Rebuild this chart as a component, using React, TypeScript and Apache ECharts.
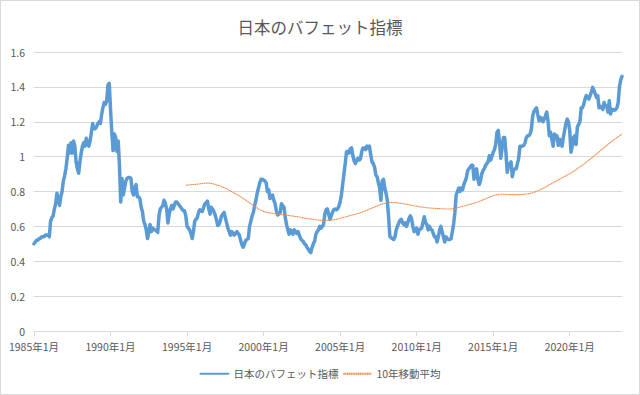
import React, { useEffect, useRef } from "react";
import * as echarts from "echarts";

const TITLE = "日本のバフェット指標";
const SERIES_MAIN = "日本のバフェット指標";
const SERIES_MA = "10年移動平均";
const START_YEAR = 1985;
const LABEL_EVERY = 60; // one label every 5 years

// Monthly values, 1985年1月 .. 2023年6月
const buffett: number[] = [
  // 1985
  0.50, 0.51, 0.52, 0.52, 0.53, 0.53, 0.54, 0.54, 0.54, 0.55, 0.55, 0.55,
  // 1986
  0.54, 0.63, 0.65, 0.66, 0.70, 0.73, 0.79, 0.76, 0.72, 0.77, 0.80, 0.86,
  // 1987
  0.89, 0.93, 0.99, 1.065, 1.02, 1.08, 1.02, 1.09, 1.06, 0.97, 0.93, 0.905,
  // 1988
  0.97, 1.02, 1.06, 1.08, 1.06, 1.105, 1.08, 1.06, 1.09, 1.14, 1.19, 1.16,
  // 1989
  1.16, 1.17, 1.19, 1.20, 1.19, 1.24, 1.28, 1.31, 1.30, 1.32, 1.41, 1.42,
  // 1990
  1.27, 1.14, 1.035, 1.13, 1.11, 1.03, 1.09, 0.95, 0.74, 0.875, 0.78, 0.82,
  // 1991
  0.86, 0.875, 0.88, 0.88, 0.875, 0.80, 0.78, 0.82, 0.84, 0.77, 0.77, 0.76,
  // 1992
  0.71, 0.685, 0.63, 0.61, 0.58, 0.53, 0.57, 0.61, 0.57, 0.59, 0.58, 0.58,
  // 1993
  0.575, 0.565, 0.66, 0.70, 0.71, 0.72, 0.75, 0.73, 0.70, 0.62, 0.67, 0.70,
  // 1994
  0.72, 0.70, 0.72, 0.74, 0.74, 0.73, 0.72, 0.71, 0.70, 0.69, 0.69, 0.66,
  // 1995
  0.60, 0.59, 0.58, 0.56, 0.53, 0.57, 0.63, 0.64, 0.65, 0.68, 0.695, 0.69,
  // 1996
  0.685, 0.71, 0.73, 0.735, 0.745, 0.70, 0.67, 0.71, 0.70, 0.685, 0.665, 0.64,
  // 1997
  0.605, 0.61, 0.63, 0.66, 0.67, 0.68, 0.65, 0.62, 0.59, 0.57, 0.55, 0.57,
  // 1998
  0.56, 0.55, 0.56, 0.57, 0.56, 0.55, 0.52, 0.495, 0.48, 0.50, 0.52, 0.525,
  // 1999
  0.53, 0.60, 0.63, 0.66, 0.68, 0.72, 0.75, 0.79, 0.82, 0.85, 0.87, 0.87,
  // 2000
  0.865, 0.86, 0.85, 0.80, 0.81, 0.76, 0.77, 0.78, 0.75, 0.73, 0.69, 0.665,
  // 2001
  0.67, 0.68, 0.73, 0.72, 0.71, 0.65, 0.61, 0.58, 0.555, 0.58, 0.57, 0.555,
  // 2002
  0.58, 0.57, 0.56, 0.57, 0.55, 0.53, 0.52, 0.515, 0.50, 0.495, 0.48, 0.47,
  // 2003
  0.457, 0.45, 0.48, 0.50, 0.515, 0.555, 0.57, 0.58, 0.60, 0.59, 0.60, 0.61,
  // 2004
  0.67, 0.695, 0.70, 0.67, 0.64, 0.66, 0.68, 0.695, 0.70, 0.695, 0.70, 0.715,
  // 2005
  0.74, 0.78, 0.84, 0.90, 0.96, 1.027, 1.03, 1.02, 1.045, 1.05, 1.005, 0.975,
  // 2006
  0.96, 0.98, 0.99, 0.98, 0.99, 1.03, 1.05, 1.05, 1.04, 1.06, 1.05, 1.06,
  // 2007
  1.01, 0.97, 0.96, 0.94, 0.895, 0.885, 0.85, 0.82, 0.75, 0.86, 0.87, 0.82,
  // 2008
  0.79, 0.75, 0.656, 0.543, 0.535, 0.53, 0.525, 0.54, 0.58, 0.60, 0.62, 0.635,
  // 2009
  0.64, 0.62, 0.61, 0.62, 0.60, 0.62, 0.645, 0.66, 0.645, 0.60, 0.57, 0.58,
  // 2010
  0.59, 0.555, 0.58, 0.585, 0.59, 0.625, 0.655, 0.62, 0.61, 0.58, 0.60, 0.585,
  // 2011
  0.58, 0.56, 0.54, 0.54, 0.51, 0.54, 0.58, 0.60, 0.57, 0.54, 0.51, 0.54,
  // 2012
  0.53, 0.525, 0.525, 0.53, 0.57, 0.615, 0.68, 0.78, 0.80, 0.82, 0.80, 0.82,
  // 2013
  0.81, 0.84, 0.86, 0.88, 0.92, 0.93, 0.94, 0.95, 0.95, 0.87, 0.91, 0.93,
  // 2014
  0.87, 0.84, 0.86, 0.90, 0.92, 0.93, 0.95, 0.96, 0.97, 1.005, 0.98, 1.00,
  // 2015
  1.025, 1.04, 1.07, 1.14, 1.15, 1.08, 0.99, 1.05, 1.11, 1.11, 1.025, 0.91,
  // 2016
  0.95, 0.96, 0.97, 0.885, 0.92, 0.93, 0.93, 0.96, 0.99, 1.06, 1.06, 1.06,
  // 2017
  1.065, 1.08, 1.11, 1.12, 1.12, 1.13, 1.16, 1.235, 1.26, 1.27, 1.28, 1.24,
  // 2018
  1.205, 1.225, 1.22, 1.20, 1.215, 1.235, 1.255, 1.205, 1.12, 1.14, 1.10, 1.06,
  // 2019
  1.13, 1.12, 1.12, 1.065, 1.10, 1.08, 1.06, 1.11, 1.15, 1.19, 1.215, 1.20,
  // 2020
  1.15, 1.025, 1.06, 1.11, 1.12, 1.07, 1.17, 1.185, 1.20, 1.28, 1.28, 1.30,
  // 2021
  1.33, 1.35, 1.34, 1.33, 1.35, 1.37, 1.397, 1.38, 1.36, 1.34, 1.35, 1.28,
  // 2022
  1.29, 1.28, 1.27, 1.31, 1.29, 1.29, 1.255, 1.32, 1.245, 1.27, 1.27, 1.265,
  // 2023
  1.27, 1.28, 1.31, 1.40, 1.44, 1.46,
];

// 10-year moving average, first value at 1994年12月
const MA_START_INDEX = 119;
const movingAvg: number[] = [
  // 1994-12
  0.835,
  // 1995
  0.836, 0.837, 0.838, 0.839, 0.840, 0.840, 0.841, 0.842, 0.842, 0.843, 0.844, 0.845,
  // 1996
  0.846, 0.847, 0.847, 0.848, 0.848, 0.848, 0.847, 0.846, 0.845, 0.843, 0.841, 0.838,
  // 1997
  0.836, 0.834, 0.831, 0.828, 0.825, 0.822, 0.819, 0.815, 0.811, 0.807, 0.803, 0.799,
  // 1998
  0.795, 0.791, 0.787, 0.783, 0.779, 0.775, 0.770, 0.765, 0.760, 0.755, 0.750, 0.745,
  // 1999
  0.740, 0.735, 0.730, 0.725, 0.720, 0.715, 0.710, 0.705, 0.700, 0.696, 0.692, 0.689,
  // 2000
  0.686, 0.683, 0.681, 0.679, 0.678, 0.677, 0.676, 0.675, 0.674, 0.673, 0.672, 0.671,
  // 2001
  0.670, 0.669, 0.668, 0.667, 0.666, 0.665, 0.664, 0.663, 0.662, 0.661, 0.660, 0.659,
  // 2002
  0.658, 0.657, 0.656, 0.655, 0.654, 0.652, 0.650, 0.649, 0.647, 0.646, 0.645, 0.644,
  // 2003
  0.643, 0.642, 0.641, 0.640, 0.639, 0.638, 0.637, 0.636, 0.636, 0.635, 0.635, 0.635,
  // 2004
  0.635, 0.635, 0.635, 0.635, 0.636, 0.636, 0.637, 0.638, 0.639, 0.640, 0.642, 0.644,
  // 2005
  0.646, 0.648, 0.650, 0.652, 0.654, 0.656, 0.658, 0.660, 0.662, 0.664, 0.666, 0.668,
  // 2006
  0.670, 0.672, 0.674, 0.676, 0.678, 0.681, 0.684, 0.687, 0.690, 0.693, 0.696, 0.699,
  // 2007
  0.702, 0.705, 0.708, 0.711, 0.714, 0.717, 0.720, 0.723, 0.726, 0.728, 0.730, 0.732,
  // 2008
  0.734, 0.735, 0.736, 0.737, 0.737, 0.737, 0.737, 0.737, 0.736, 0.735, 0.734, 0.733,
  // 2009
  0.732, 0.731, 0.730, 0.728, 0.727, 0.726, 0.724, 0.722, 0.721, 0.720, 0.718, 0.717,
  // 2010
  0.716, 0.714, 0.713, 0.712, 0.711, 0.710, 0.709, 0.708, 0.707, 0.706, 0.705, 0.705,
  // 2011
  0.704, 0.704, 0.703, 0.703, 0.702, 0.702, 0.702, 0.701, 0.701, 0.701, 0.700, 0.700,
  // 2012
  0.700, 0.700, 0.700, 0.700, 0.701, 0.702, 0.703, 0.705, 0.707, 0.709, 0.711, 0.713,
  // 2013
  0.715, 0.717, 0.719, 0.721, 0.723, 0.725, 0.727, 0.729, 0.731, 0.733, 0.735, 0.737,
  // 2014
  0.740, 0.743, 0.746, 0.749, 0.752, 0.755, 0.758, 0.761, 0.764, 0.767, 0.770, 0.773,
  // 2015
  0.776, 0.778, 0.780, 0.782, 0.783, 0.784, 0.784, 0.784, 0.784, 0.784, 0.783, 0.783,
  // 2016
  0.783, 0.782, 0.782, 0.782, 0.782, 0.782, 0.782, 0.782, 0.782, 0.782, 0.783, 0.783,
  // 2017
  0.784, 0.785, 0.786, 0.787, 0.788, 0.789, 0.791, 0.793, 0.795, 0.798, 0.801, 0.804,
  // 2018
  0.807, 0.810, 0.814, 0.818, 0.822, 0.826, 0.830, 0.834, 0.838, 0.842, 0.846, 0.850,
  // 2019
  0.854, 0.858, 0.862, 0.866, 0.870, 0.874, 0.878, 0.882, 0.886, 0.890, 0.894, 0.898,
  // 2020
  0.902, 0.906, 0.911, 0.916, 0.921, 0.926, 0.931, 0.936, 0.941, 0.946, 0.951, 0.956,
  // 2021
  0.962, 0.968, 0.974, 0.980, 0.986, 0.992, 0.998, 1.004, 1.010, 1.016, 1.022, 1.028,
  // 2022
  1.034, 1.040, 1.046, 1.052, 1.058, 1.064, 1.070, 1.076, 1.082, 1.088, 1.094, 1.099,
  // 2023
  1.104, 1.109, 1.114, 1.119, 1.124, 1.130,
];

const yTicks = { min: 0, max: 1.6, interval: 0.2 };

const categories: string[] = buffett.map((_, i) => {
  const y = START_YEAR + Math.floor(i / 12);
  const m = (i % 12) + 1;
  return `${y}年${m}月`;
});

const maData: (number | null)[] = [
  ...new Array(MA_START_INDEX).fill(null),
  ...movingAvg,
];

const FONT = '"Noto Sans CJK JP", "Noto Sans", sans-serif';
const TEXT_COLOR = "#595959";
const GRID_COLOR = "#d9d9d9";

const showEvery = (i: number) => i % LABEL_EVERY === 0;

export default function App() {
  const ref = useRef<HTMLDivElement>(null);

  useEffect(() => {
    if (!ref.current) return;
    const chart = echarts.init(ref.current, undefined, { renderer: "svg" });
    chart.setOption({
      animation: false,
      backgroundColor: "#ffffff",
      textStyle: { fontFamily: FONT },
      title: {
        text: TITLE,
        left: "center",
        top: 13,
        textStyle: {
          fontFamily: FONT,
          fontSize: 16.5,
          fontWeight: "normal",
          color: TEXT_COLOR,
        },
      },
      legend: {
        bottom: 10,
        left: "center",
        itemWidth: 28,
        itemHeight: 10,
        itemGap: 4,
        itemStyle: { opacity: 0 },
        textStyle: { fontFamily: FONT, fontSize: 10.5, color: TEXT_COLOR },
        data: [SERIES_MAIN, SERIES_MA],
      },
      grid: { left: 33, right: 17, top: 51, bottom: 63, containLabel: false },
      xAxis: {
        type: "category",
        data: categories,
        boundaryGap: false,
        axisLine: { show: true, lineStyle: { color: GRID_COLOR, width: 1 } },
        axisTick: {
          show: true,
          interval: showEvery,
          length: 5,
          lineStyle: { color: GRID_COLOR },
        },
        axisLabel: {
          interval: showEvery,
          color: TEXT_COLOR,
          fontFamily: FONT,
          fontSize: 10.5,
          margin: 10,
          hideOverlap: false,
        },
        splitLine: { show: false },
      },
      yAxis: {
        type: "value",
        min: yTicks.min,
        max: yTicks.max,
        interval: yTicks.interval,
        axisLine: { show: false },
        axisTick: { show: false },
        axisLabel: {
          color: TEXT_COLOR,
          fontFamily: FONT,
          fontSize: 10.5,
          margin: 9,
        },
        splitLine: { show: true, lineStyle: { color: GRID_COLOR, width: 1 } },
      },
      series: [
        {
          name: SERIES_MAIN,
          type: "line",
          data: buffett,
          showSymbol: false,
          symbol: "none",
          lineStyle: { color: "#5b9bd5", width: 3.5, join: "round", cap: "round" },
          itemStyle: { color: "#5b9bd5" },
          z: 3,
        },
        {
          name: SERIES_MA,
          type: "line",
          data: maData,
          showSymbol: false,
          symbol: "none",
          connectNulls: false,
          lineStyle: { color: "#f0894a", width: 1.1, type: [1.4, 0.4] },
          itemStyle: { color: "#ed7d31" },
          z: 4,
        },
      ],
    });
    return () => chart.dispose();
  }, []);

  return (
    <div
      style={{
        position: "fixed",
        left: 0,
        top: 0,
        width: 640,
        height: 395,
        boxSizing: "border-box",
        border: "1px solid #d9d9d9",
        background: "#fff",
      }}
    >
      <div ref={ref} style={{ width: 638, height: 393 }} />
    </div>
  );
}
